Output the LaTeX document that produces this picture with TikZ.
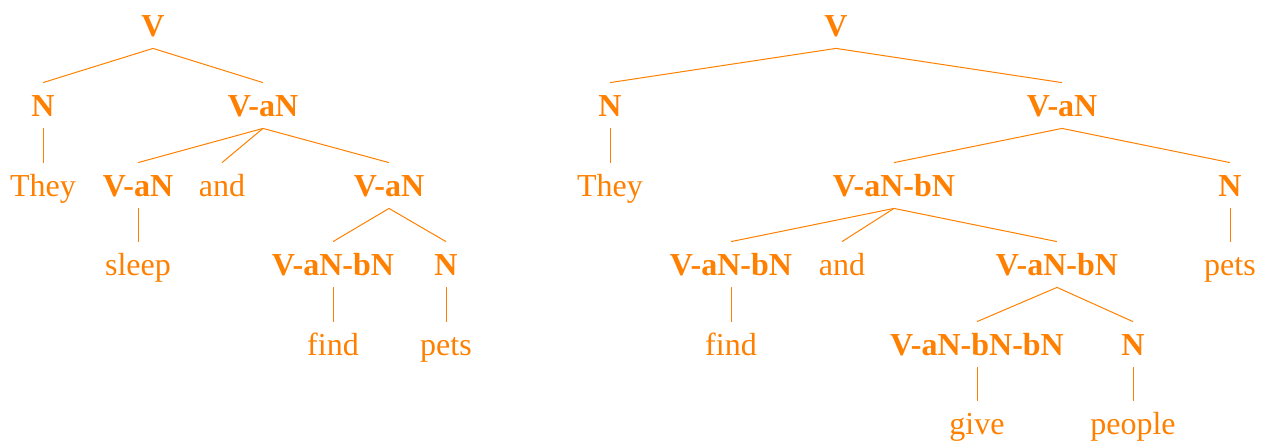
\documentclass[tikz,border=0pt]{standalone}
\usepackage{fontspec}
\setmainfont{Liberation Serif}
\usepackage{xcolor}
\definecolor{treeorange}{RGB}{255,128,0}

\begin{document}
\begin{tikzpicture}[
  x=0.5pt,y=-0.5pt,
  font=\fontsize{16}{19}\selectfont,
  tn/.style={anchor=base,text=treeorange,text height=14.5pt,text depth=4pt,inner ysep=2pt,inner xsep=0pt},
  cat/.style={tn,font=\fontsize{16}{19}\selectfont\bfseries},
  word/.style={tn},
  branch/.style={draw=treeorange,line width=0.5pt}
]
\useasboundingbox (0,0) rectangle (1262,441);

% left tree
\node[cat] (lV) at (153,36) {V};
\node[cat] (lN) at (43,116) {N};
\node[cat] (lVaN) at (263,116) {V-aN};
\node[word] (lThey) at (43,196) {They};
\node[cat] (lVaNa) at (138,196) {V-aN};
\node[word] (land) at (222,196) {and};
\node[cat] (lVaNb) at (389,196) {V-aN};
\node[word] (lsleep) at (138,275) {sleep};
\node[cat] (lVaNbN) at (333,275) {V-aN-bN};
\node[cat] (lNb) at (446,275) {N};
\node[word] (lfind) at (333,355) {find};
\node[word] (lpets) at (446,355) {pets};

% right tree
\node[cat] (rV) at (836,36) {V};
\node[cat] (rN) at (610,116) {N};
\node[cat] (rVaN) at (1062,116) {V-aN};
\node[word] (rThey) at (610,196) {They};
\node[cat] (rVaNbN) at (894,196) {V-aN-bN};
\node[cat] (rNb) at (1230,196) {N};
\node[cat] (rVaNbNa) at (731,275) {V-aN-bN};
\node[word] (rand) at (842,275) {and};
\node[cat] (rVaNbNb) at (1057,275) {V-aN-bN};
\node[word] (rpets) at (1230,275) {pets};
\node[word] (rfind) at (731,355) {find};
\node[cat] (rVaNbNbN) at (977,355) {V-aN-bN-bN};
\node[cat] (rNc) at (1133,355) {N};
\node[word] (rgive) at (977,434) {give};
\node[word] (rpeople) at (1133,434) {people};

\draw[branch] (lV.south) -- (lN.north);
\draw[branch] (lV.south) -- (lVaN.north);
\draw[branch] (lN.south) -- (lThey.north);
\draw[branch] (lVaN.south) -- (lVaNa.north);
\draw[branch] (lVaN.south) -- (land.north);
\draw[branch] (lVaN.south) -- (lVaNb.north);
\draw[branch] (lVaNa.south) -- (lsleep.north);
\draw[branch] (lVaNb.south) -- (lVaNbN.north);
\draw[branch] (lVaNb.south) -- (lNb.north);
\draw[branch] (lVaNbN.south) -- (lfind.north);
\draw[branch] (lNb.south) -- (lpets.north);

\draw[branch] (rV.south) -- (rN.north);
\draw[branch] (rV.south) -- (rVaN.north);
\draw[branch] (rN.south) -- (rThey.north);
\draw[branch] (rVaN.south) -- (rVaNbN.north);
\draw[branch] (rVaN.south) -- (rNb.north);
\draw[branch] (rVaNbN.south) -- (rVaNbNa.north);
\draw[branch] (rVaNbN.south) -- (rand.north);
\draw[branch] (rVaNbN.south) -- (rVaNbNb.north);
\draw[branch] (rNb.south) -- (rpets.north);
\draw[branch] (rVaNbNa.south) -- (rfind.north);
\draw[branch] (rVaNbNb.south) -- (rVaNbNbN.north);
\draw[branch] (rVaNbNb.south) -- (rNc.north);
\draw[branch] (rVaNbNbN.south) -- (rgive.north);
\draw[branch] (rNc.south) -- (rpeople.north);

\end{tikzpicture}
\end{document}
